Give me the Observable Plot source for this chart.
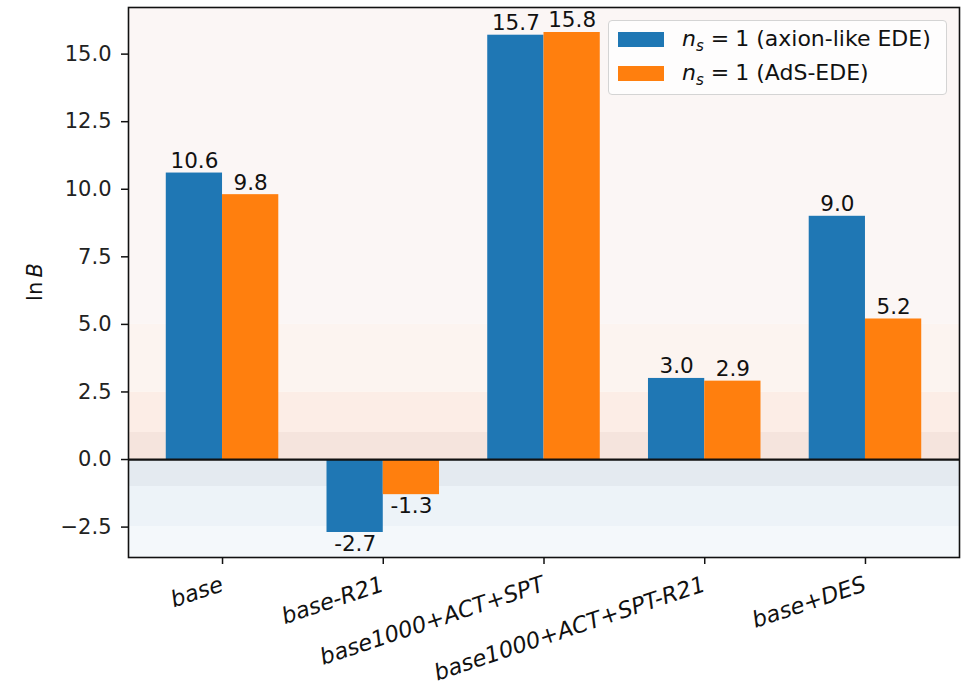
<!DOCTYPE html>
<html>
<head>
<meta charset="utf-8">
<script src="https://cdn.jsdelivr.net/npm/d3@7"></script>
<script src="https://cdn.jsdelivr.net/npm/@observablehq/plot@0.6"></script>
<style>
  html, body { margin: 0; padding: 0; background: #fff; }
  #wrap { position: relative; width: 967px; height: 689px; font-family: "DejaVu Sans", sans-serif; color: #222; }
  #legend {
    position: absolute; left: 608px; top: 20px; width: 337px; height: 73px;
    background: rgba(255,255,255,0.8); border: 1px solid #d4d4d4; border-radius: 4px;
    font-size: 22px;
  }
  .sw { position: absolute; left: 9px; width: 46px; height: 15px; }
  .lab { position: absolute; left: 73px; line-height: 24px; white-space: nowrap; color: #111; }
  .lab sub { font-size: 15px; vertical-align: -5px; line-height: 0; }
  .lab .eq { margin: 0 6px 0 7px; }
  #ylabel {
    position: absolute; left: 35px; top: 282px; font-size: 21px; white-space: nowrap; color: #111;
    transform: translate(-50%, -50%) rotate(-90deg);
  }
</style>
</head>
<body>
<div id="wrap"></div>
<script>
// Bayes factors for the two EDE models across dataset combinations
const categories = ["base", "base-R21", "base1000+ACT+SPT", "base1000+ACT+SPT-R21", "base+DES"];
const axionEDE = [10.6, -2.7, 15.7, 3.0, 9.0];
const adsEDE = [9.8, -1.3, 15.8, 2.9, 5.2];
const seriesNames = ["axion-like EDE", "AdS-EDE"];
const seriesColors = ["#1f77b4", "#ff7f0e"];
const yTicks = [-2.5, 0, 2.5, 5, 7.5, 10, 12.5, 15];

// Jeffreys-scale thresholds for shading the background
const jeffreys = [1, 2.5, 5];
const positiveShades = ["#f5e4dd", "#fcede6", "#fcf4f0", "#fbf6f5"];
const negativeShades = ["#e4eaf0", "#edf3f8", "#f4f8fb"];

const barWidth = 0.35;

const rows = categories.flatMap((c, i) => [
  {c, i, s: 0, v: axionEDE[i]},
  {c, i, s: 1, v: adsEDE[i]}
]);

// axis limits with 5% margins, like the usual plotting defaults
const allValues = rows.map(d => d.v).concat([0]);
const vMin = d3.min(allValues), vMax = d3.max(allValues);
const yPad = 0.05 * (vMax - vMin);
const yDomain = [vMin - yPad, vMax + yPad];
const xLo = -barWidth, xHi = categories.length - 1 + barWidth;
const xPad = 0.05 * (xHi - xLo);
const xDomain = [xLo - xPad, xHi + xPad];

// background bands
const posEdges = [0, ...jeffreys, yDomain[1]];
const negEdges = [0, -jeffreys[0], -jeffreys[1], yDomain[0]];
const bands = [];
for (let k = 0; k < posEdges.length - 1; k++) bands.push({lo: posEdges[k], hi: posEdges[k + 1], color: positiveShades[k]});
for (let k = 0; k < negEdges.length - 1; k++) bands.push({lo: negEdges[k + 1], hi: negEdges[k], color: negativeShades[k]});

const fmtTick = d => d.toFixed(1).replace("-", "\u2212");

const chart = Plot.plot({
  width: 967,
  height: 689,
  marginLeft: 128,
  marginRight: 8,
  marginTop: 7,
  marginBottom: 132,
  style: {fontFamily: "DejaVu Sans", fontSize: "21px", color: "#111", background: "transparent"},
  x: {domain: xDomain, axis: null},
  y: {domain: yDomain, axis: null},
  color: {type: "identity"},
  marks: [
    Plot.rect(bands, {y1: "lo", y2: "hi", fill: "color"}),
    Plot.rect(rows, {
      x1: d => d.i + (d.s - 1) * barWidth,
      x2: d => d.i + d.s * barWidth,
      y1: 0,
      y2: "v",
      fill: d => seriesColors[d.s]
    }),
    Plot.ruleY([0], {stroke: "#111", strokeWidth: 2.2}),
    Plot.frame({stroke: "#111", strokeWidth: 1.6}),
    Plot.text(rows.filter(d => d.v >= 0), {
      x: d => d.i + (d.s - 0.5) * barWidth,
      y: "v",
      text: d => d.v.toFixed(1),
      fontSize: 21.5,
      dy: -12,
      fill: "#111"
    }),
    Plot.text(rows.filter(d => d.v < 0), {
      x: d => d.i + (d.s - 0.5) * barWidth,
      y: "v",
      text: d => d.v.toFixed(1),
      fontSize: 21.5,
      dy: 11.5,
      fill: "#111"
    }),
    Plot.axisY({ticks: yTicks, tickFormat: fmtTick, tickSize: 7, tickPadding: 10, label: null, strokeWidth: 1.5, fill: "#222", fontSize: 21}),
    Plot.axisX({ticks: d3.range(categories.length), tickFormat: () => "", tickSize: 7, label: null, strokeWidth: 1.5}),
    Plot.text(categories, {
      x: (d, i) => i,
      frameAnchor: "bottom",
      dy: 33,
      dx: 2,
      rotate: -18.5,
      textAnchor: "end",
      fontStyle: "italic",
      fontSize: 22.5,
      fill: "#111"
    })
  ]
});

const wrap = document.getElementById("wrap");
wrap.appendChild(chart);

// legend inside the plotting area
const legend = document.createElement("div");
legend.id = "legend";
seriesNames.forEach((name, k) => {
  const sw = document.createElement("span");
  sw.className = "sw";
  sw.style.top = (11 + 34 * k) + "px";
  sw.style.background = seriesColors[k];
  legend.appendChild(sw);
  const lab = document.createElement("span");
  lab.className = "lab";
  lab.style.top = (6 + 34 * k) + "px";
  lab.innerHTML = `<i>n</i><sub><i>s</i></sub><span class="eq">=</span>1 (${name})`;
  legend.appendChild(lab);
});
wrap.appendChild(legend);

const ylabel = document.createElement("div");
ylabel.id = "ylabel";
ylabel.innerHTML = "ln\u2009<i>B</i>";
wrap.appendChild(ylabel);
</script>
</body>
</html>
